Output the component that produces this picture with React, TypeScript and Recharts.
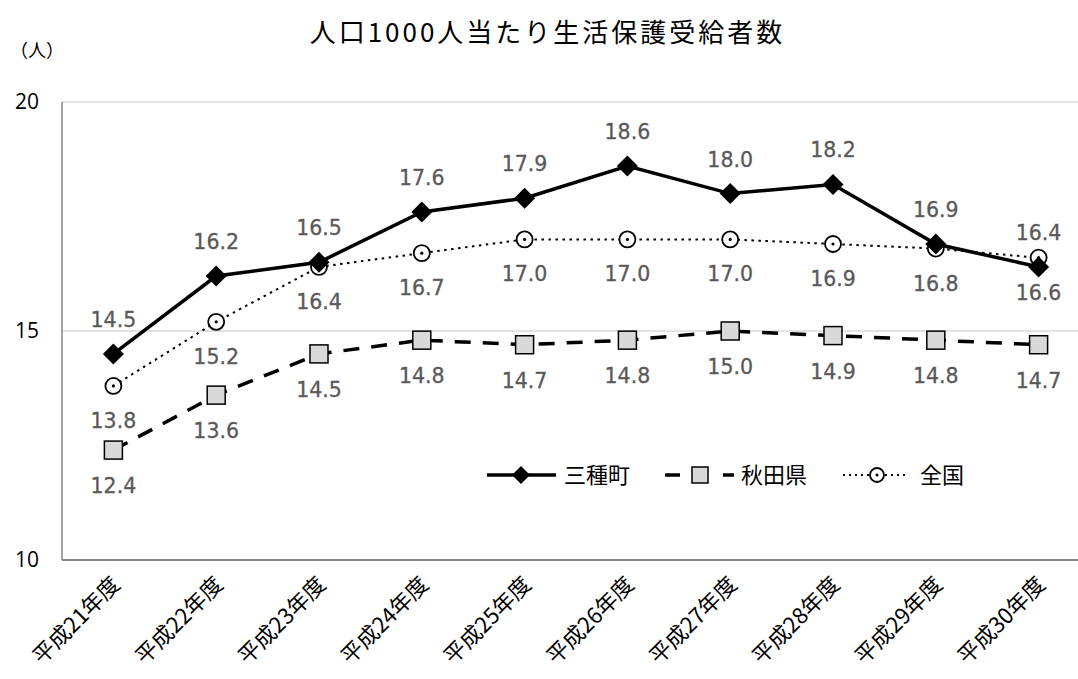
import React from "react";
import { CartesianGrid, LabelList, Line, LineChart, XAxis, YAxis } from "recharts";

const categories = [
  "平成21年度",
  "平成22年度",
  "平成23年度",
  "平成24年度",
  "平成25年度",
  "平成26年度",
  "平成27年度",
  "平成28年度",
  "平成29年度",
  "平成30年度",
];
const mitaneValues = [14.5, 16.2, 16.5, 17.6, 17.9, 18.6, 18.0, 18.2, 16.9, 16.4];
const akitaValues = [12.4, 13.6, 14.5, 14.8, 14.7, 14.8, 15.0, 14.9, 14.8, 14.7];
const zenkokuValues = [13.8, 15.2, 16.4, 16.7, 17.0, 17.0, 17.0, 16.9, 16.8, 16.6];
const yTicks = [10, 15, 20];

const data = categories.map((name, i) => ({
  name,
  mitane: mitaneValues[i],
  akita: akitaValues[i],
  zenkoku: zenkokuValues[i],
}));

const jpFont = "'Noto Sans CJK JP', sans-serif";
const numFont = "'DejaVu Sans', sans-serif";

const Diamond = (props: any) => {
  const { cx, cy, key } = props;
  if (cx == null || cy == null) return <g key={key} />;
  const r = 10.5;
  return (
    <path
      key={key}
      d={`M${cx},${cy - r}L${cx + r},${cy}L${cx},${cy + r}L${cx - r},${cy}Z`}
      fill="#000"
    />
  );
};

const Square = (props: any) => {
  const { cx, cy, key } = props;
  if (cx == null || cy == null) return <g key={key} />;
  return (
    <rect key={key} x={cx - 9} y={cy - 9} width={18} height={18} fill="#d9d9d9" stroke="#000" strokeWidth={1.5} />
  );
};

const DotCircle = (props: any) => {
  const { cx, cy, key } = props;
  if (cx == null || cy == null) return <g key={key} />;
  return (
    <g key={key}>
      <circle cx={cx} cy={cy} r={8} fill="#fff" stroke="#000" strokeWidth={1.8} />
      <circle cx={cx} cy={cy} r={1.6} fill="#000" />
    </g>
  );
};

const makeLabel = (dy: number) => (props: any) => {
  const { x, y, value } = props;
  return (
    <text
      x={x}
      y={y + dy}
      textAnchor="middle"
      fill="#595959"
      fontSize={20.5}
      fontFamily={numFont}
      stroke="#595959"
      strokeWidth={0.3}
    >
      {Number(value).toFixed(1)}
    </text>
  );
};

const XTick = (props: any) => {
  const { x, y, payload } = props;
  return (
    <text
      transform={`translate(${x + 8},${y + 18}) rotate(-45)`}
      textAnchor="end"
      fontSize={22}
      fontFamily={jpFont}
      fill="#000"
    >
      {payload.value}
    </text>
  );
};

const YTick = (props: any) => {
  const { y, payload } = props;
  return (
    <text x={39} y={y + 7} textAnchor="end" fontSize={21} fontFamily="'Open Sans', sans-serif" fill="#000">
      {payload.value}
    </text>
  );
};

const LegendBox = () => (
  <svg width={520} height={40}>
    <g transform="translate(0,20)">
      <line x1={7} y1={0} x2={76} y2={0} stroke="#000" strokeWidth={3.5} />
      <path d="M41,-9L50,0L41,9L32,0Z" fill="#000" />
      <text x={84} y={8} fontSize={22} fontFamily={jpFont} fill="#000">三種町</text>

      <line x1={185} y1={0} x2={200} y2={0} stroke="#000" strokeWidth={3.5} />
      <rect x={212} y={-8} width={16} height={16} fill="#d9d9d9" stroke="#000" strokeWidth={1.5} />
      <line x1={243} y1={0} x2={254} y2={0} stroke="#000" strokeWidth={3.5} />
      <text x={261} y={8} fontSize={22} fontFamily={jpFont} fill="#000">秋田県</text>

      <line x1={363} y1={0} x2={390} y2={0} stroke="#000" strokeWidth={2} strokeDasharray="2 4" />
      <circle cx={397} cy={0} r={7} fill="#fff" stroke="#000" strokeWidth={1.8} />
      <circle cx={397} cy={0} r={1.5} fill="#000" />
      <line x1={405} y1={0} x2={427} y2={0} stroke="#000" strokeWidth={2} strokeDasharray="2 4" />
      <text x={440} y={8} fontSize={22} fontFamily={jpFont} fill="#000">全国</text>
    </g>
  </svg>
);

export default function App() {
  return (
    <div
      style={{
        position: "absolute",
        left: 0,
        top: 0,
        width: 1078,
        height: 679,
        overflow: "hidden",
        background: "#fff",
      }}
    >
      <div
        style={{
          position: "absolute",
          left: 0,
          width: 1095,
          top: 14,
          textAlign: "center",
          fontFamily: jpFont,
          fontSize: 26,
          letterSpacing: 3,
          color: "#000",
          lineHeight: "34px",
          zIndex: 2,
        }}
      >
        人口1000人当たり生活保護受給者数
      </div>
      <div
        style={{
          position: "absolute",
          left: 10,
          top: 36,
          fontFamily: jpFont,
          fontSize: 18,
          color: "#000",
          lineHeight: "26px",
          zIndex: 2,
        }}
      >
        （人）
      </div>
      <div style={{ position: "absolute", left: 480, top: 455, zIndex: 2 }}>
        <LegendBox />
      </div>
      <LineChart width={1090} height={679} data={data} margin={{ top: 102, right: 0, left: 0, bottom: 0 }}>
        <CartesianGrid horizontal vertical={false} stroke="#d9d9d9" strokeWidth={1.5} />
        <XAxis
          dataKey="name"
          height={119}
          interval={0}
          padding={{ left: 51.4, right: 51.4 }}
          tickLine={false}
          axisLine={{ stroke: "#868686", strokeWidth: 2 }}
          tick={<XTick />}
        />
        <YAxis
          width={62}
          domain={[10, 20]}
          ticks={yTicks}
          tickLine={false}
          axisLine={{ stroke: "#868686", strokeWidth: 1.5 }}
          tick={<YTick />}
        />
        <Line
          dataKey="zenkoku"
          stroke="#000"
          strokeWidth={2}
          strokeDasharray="2.5 4.5"
          dot={DotCircle}
          activeDot={false}
          isAnimationActive={false}
        >
          <LabelList dataKey="zenkoku" content={makeLabel(42)} />
        </Line>
        <Line
          dataKey="akita"
          stroke="#000"
          strokeWidth={3.5}
          strokeDasharray="16 12"
          dot={Square}
          activeDot={false}
          isAnimationActive={false}
        >
          <LabelList dataKey="akita" content={makeLabel(43)} />
        </Line>
        <Line
          dataKey="mitane"
          stroke="#000"
          strokeWidth={3.5}
          dot={Diamond}
          activeDot={false}
          isAnimationActive={false}
        >
          <LabelList dataKey="mitane" content={makeLabel(-27)} />
        </Line>
      </LineChart>
    </div>
  );
}
